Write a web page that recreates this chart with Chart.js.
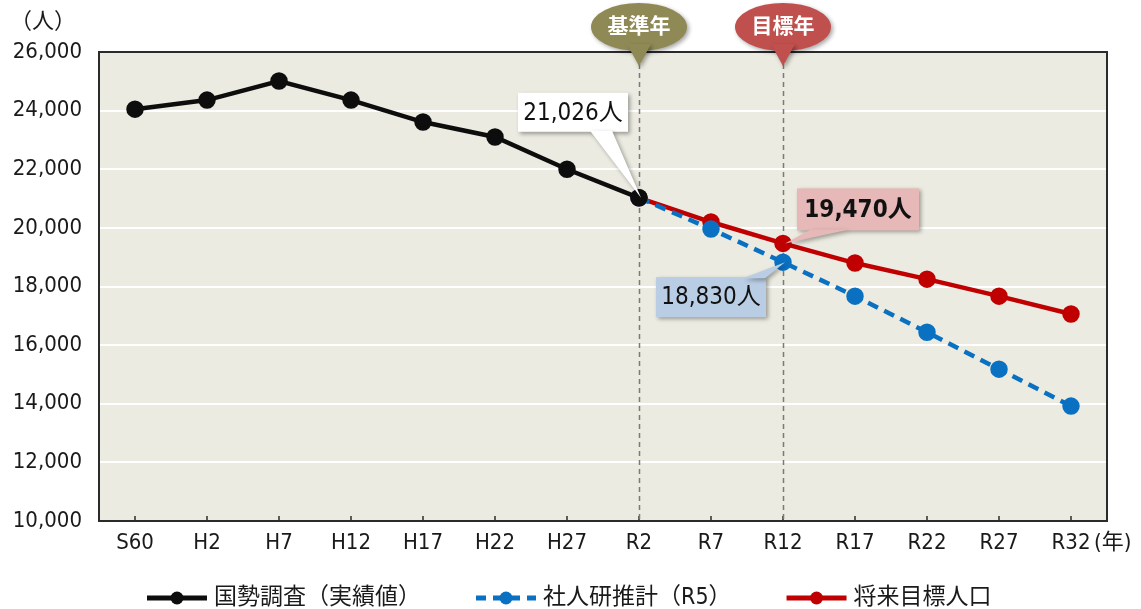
<!DOCTYPE html>
<html>
<head>
<meta charset="utf-8">
<script src="https://cdn.jsdelivr.net/npm/chart.js@4.4.1/dist/chart.umd.min.js"></script>
<style>
  html, body { margin: 0; padding: 0; background: #fff; }
  #wrap { width: 1141px; height: 609px; }
</style>
</head>
<body>
<div id="wrap"><canvas id="chart" width="1141" height="609"></canvas></div>
<script>
// data
const years = ['S60','H2','H7','H12','H17','H22','H27','R2','R7','R12','R17','R22','R27','R32']
const actual = [24050, 24360, 25010, 24360, 23610, 23100, 22000, 21026, null, null, null, null, null, null]
const ipss = [null, null, null, null, null, null, null, 21026, 19960, 18830, 17670, 16440, 15180, 13920]
const target = [null, null, null, null, null, null, null, 21026, 20200, 19470, 18800, 18250, 17670, 17060]
const yTicks = [10000, 12000, 14000, 16000, 18000, 20000, 22000, 24000, 26000]
const seriesNames = ['国勢調査（実績値）', '社人研推計（R5）', '将来目標人口']
const baseYear = 'R2'
const goalYear = 'R12'

const FONT = "'Liberation Sans Narrow', 'DejaVu Sans Condensed', 'Noto Sans CJK JP', sans-serif"
const BLACK = '#0d0d0d'
const BLUE = '#0a70c2'
const RED = '#c00000'
const fmt = v => v.toLocaleString('en-US')

const extras = {
  id: 'extras',
  beforeDraw(chart) {
    const { ctx, chartArea: a } = chart
    ctx.save()
    ctx.fillStyle = '#fff'
    ctx.fillRect(0, 0, chart.width, chart.height)
    ctx.fillStyle = '#ecebe1'
    ctx.fillRect(a.left, a.top, a.right - a.left, a.bottom - a.top)
    ctx.restore()
  },
  beforeDatasetsDraw(chart) {
    const { ctx, chartArea: a, scales: { x } } = chart
    ctx.save()
    // plot border
    ctx.strokeStyle = '#2b2b2b'
    ctx.lineWidth = 2
    ctx.strokeRect(a.left, a.top, a.right - a.left, a.bottom - a.top)
    // small inward ticks
    ctx.lineWidth = 1.5
    years.forEach((y, i) => {
      const px = x.getPixelForValue(i)
      ctx.beginPath(); ctx.moveTo(px, a.bottom); ctx.lineTo(px, a.bottom - 5); ctx.stroke()
    })
    // dashed year markers
    ctx.strokeStyle = '#7a7a7a'
    ctx.lineWidth = 1.5
    ctx.setLineDash([5, 4])
    ;[baseYear, goalYear].forEach(lbl => {
      const px = Math.round(x.getPixelForValue(years.indexOf(lbl))) + 0.5
      ctx.beginPath(); ctx.moveTo(px, a.top + 12); ctx.lineTo(px, a.bottom); ctx.stroke()
    })
    ctx.restore()
  },
  afterDraw(chart) {
    const { ctx, chartArea: a, scales: { x, y } } = chart
    ctx.save()
    ctx.fillStyle = '#1a1a1a'
    ctx.font = `22px ${FONT}`
    ctx.textBaseline = 'middle'
    ctx.textAlign = 'left'
    ctx.fillText('（人）', 10, 22)
    ctx.fillText('(年)', x.getPixelForValue(years.length - 1) + 23, 543)

    // badges above the markers
    const badge = (lbl, text, color) => {
      const px = x.getPixelForValue(years.indexOf(lbl))
      ctx.save()
      ctx.shadowColor = 'rgba(0,0,0,0.35)'
      ctx.shadowBlur = 4
      ctx.shadowOffsetX = 2
      ctx.shadowOffsetY = 2
      ctx.fillStyle = color
      ctx.beginPath()
      ctx.ellipse(px, 27, 48, 24, 0, 0, Math.PI * 2)
      ctx.fill()
      ctx.beginPath()
      ctx.moveTo(px - 12, 44); ctx.lineTo(px + 12, 44); ctx.lineTo(px, 66); ctx.closePath()
      ctx.fill()
      ctx.restore()
      ctx.fillStyle = '#fff'
      ctx.font = `bold 21px ${FONT}`
      ctx.textAlign = 'center'
      ctx.fillText(text, px, 28)
    }
    badge(baseYear, '基準年', '#8f8a55')
    badge(goalYear, '目標年', '#c0504d')

    // callouts
    const callout = (idx, data, box, tail, fill, bold) => {
      const px = x.getPixelForValue(idx)
      const py = y.getPixelForValue(data[idx])
      const bx = px + box[0], by = py + box[1], bw = box[2], bh = box[3]
      ctx.save()
      ctx.shadowColor = 'rgba(0,0,0,0.35)'
      ctx.shadowBlur = 4
      ctx.shadowOffsetX = 2
      ctx.shadowOffsetY = 2
      ctx.fillStyle = fill
      ctx.fillRect(bx, by, bw, bh)
      ctx.beginPath()
      ctx.moveTo(px + tail[0], py + tail[1])
      ctx.lineTo(px + tail[2], py + tail[3])
      ctx.lineTo(px + 2, py)
      ctx.closePath()
      ctx.fill()
      ctx.restore()
      ctx.fillStyle = '#111'
      ctx.font = `${bold ? 'bold ' : ''}24px ${FONT}`
      ctx.textAlign = 'center'
      ctx.fillText(fmt(data[idx]) + '人', bx + bw / 2, by + bh / 2 + 1)
    }
    const bi = years.indexOf(baseYear), gi = years.indexOf(goalYear)
    callout(bi, actual, [-121, -105, 110, 39], [-49, -67, -27, -67], '#ffffff', false)
    callout(gi, target, [14, -55, 122, 42], [28, -14, 66, -14], '#e6b9b8', true)
    callout(gi, ipss, [-127, 15, 110, 40], [-40, 16, -18, 16], '#b9cde4', false)

    // legend
    const items = [
      { color: BLACK, dash: [] },
      { color: BLUE, dash: [10, 7] },
      { color: RED, dash: [] },
    ]
    ctx.font = `23px ${FONT}`
    ctx.textAlign = 'left'
    let lx = 147
    const ly = 598
    items.forEach((it, i) => {
      ctx.strokeStyle = it.color
      ctx.lineWidth = 5
      ctx.setLineDash(it.dash)
      ctx.beginPath(); ctx.moveTo(lx, ly); ctx.lineTo(lx + 60, ly); ctx.stroke()
      ctx.setLineDash([])
      ctx.fillStyle = it.color
      ctx.beginPath(); ctx.arc(lx + 30, ly, 6.5, 0, Math.PI * 2); ctx.fill()
      ctx.fillStyle = '#1a1a1a'
      ctx.fillText(seriesNames[i], lx + 67, ly)
      lx += 67 + ctx.measureText(seriesNames[i]).width + 55
    })
    ctx.restore()
  }
}

const line = (label, data, color, dash) => ({
  label, data,
  borderColor: color,
  backgroundColor: color,
  pointBackgroundColor: color,
  pointBorderColor: color,
  borderWidth: 4.5,
  borderDash: dash,
  pointRadius: 6.5,
  pointHoverRadius: 6.5,
  spanGaps: false,
})

new Chart(document.getElementById('chart'), {
  type: 'line',
  data: {
    labels: years,
    datasets: [
      line(seriesNames[0], actual, BLACK, []),
      line(seriesNames[1], ipss, BLUE, [11, 7]),
      line(seriesNames[2], target, RED, []),
    ]
  },
  options: {
    responsive: false,
    animation: false,
    layout: { padding: { top: 52, right: 34, bottom: 48, left: 0 } },
    plugins: { legend: { display: false }, tooltip: { enabled: false } },
    scales: {
      x: {
        offset: true,
        grid: { display: false, drawTicks: false },
        border: { display: false },
        ticks: { color: '#1a1a1a', font: { family: FONT, size: 22 }, padding: 9, maxRotation: 0 },
        afterFit: s => { s.height = 40 }
      },
      y: {
        min: yTicks[0],
        max: yTicks[yTicks.length - 1],
        afterBuildTicks: s => { s.ticks = yTicks.map(v => ({ value: v })) },
        grid: { color: '#ffffff', lineWidth: 2, drawTicks: false },
        border: { display: false },
        ticks: { color: '#1a1a1a', font: { family: FONT, size: 22 }, padding: 17, callback: v => fmt(v) },
        afterFit: s => { s.width = 99 }
      }
    }
  },
  plugins: [extras]
})
</script>
</body>
</html>
